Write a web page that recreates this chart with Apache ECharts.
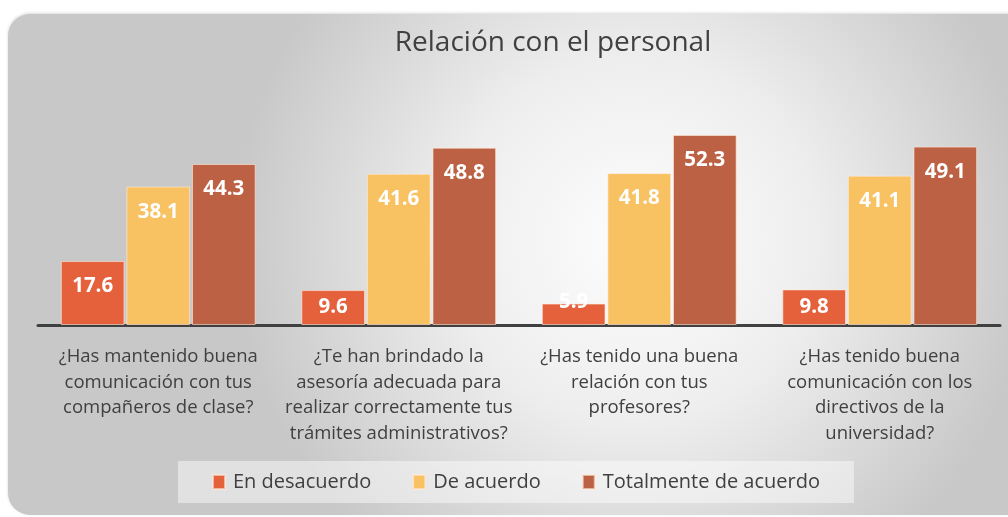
<!DOCTYPE html>
<html><head><meta charset="utf-8">
<script src="https://cdn.jsdelivr.net/npm/echarts@6/dist/echarts.min.js"></script>
<style>html,body{margin:0;padding:0;background:#fff;}#c{width:1008px;height:517px;}</style>
</head><body><div id="c"></div>
<script>
const categories = [
  "¿Has mantenido buena\ncomunicación con tus\ncompañeros de clase?",
  "¿Te han brindado la\nasesoría adecuada para\nrealizar correctamente tus\ntrámites administrativos?",
  "¿Has tenido una buena\nrelación con tus\nprofesores?",
  "¿Has tenido buena\ncomunicación con los\ndirectivos de la\nuniversidad?"
];
const seriesNames = ["En desacuerdo", "De acuerdo", "Totalmente de acuerdo"];
const enDesacuerdo = [17.6, 9.6, 5.9, 9.8];
const deAcuerdo = [38.1, 41.6, 41.8, 41.1];
const totalmente = [44.3, 48.8, 52.3, 49.1];
const colors = ["#E5613C", "#F8C162", "#BC6143"];
const FONT = "Open Sans";

const chart = echarts.init(document.getElementById('c'), null, {renderer: 'canvas'});
const labelBase = {show: true, position: 'insideTop', distance: 15, color: '#fff', fontWeight: 'bold', fontSize: 20.5, fontFamily: FONT};
function mkData(arr) {
  return arr.map(v => {
    if (v < 8) return {value: v, label: {position: 'top', distance: -9}};
    if (v < 14) return {value: v, label: {position: 'inside'}};
    return v;
  });
}
const allSeries = [enDesacuerdo, deAcuerdo, totalmente].map((arr, i) => ({
  name: seriesNames[i],
  type: 'bar',
  data: mkData(arr),
  barGap: '3%',
  barCategoryGap: '19%',
  itemStyle: {color: colors[i], borderColor: 'rgba(255,235,220,0.6)', borderWidth: 1},
  label: labelBase
}));

chart.setOption({
  animation: false,
  graphic: [{
    type: 'rect', z: -10, silent: true,
    shape: {x: 8, y: 14, width: 1010, height: 501, r: [22, 10, 0, 22]},
    style: {
      fill: {
        type: 'radial', x: 0.62, y: 0.45, r: 0.8,
        colorStops: [{offset: 0, color: '#fdfdfd'}, {offset: 0.45, color: '#eeeeee'}, {offset: 1, color: '#c8c8c8'}]
      },
      shadowBlur: 3, shadowColor: 'rgba(0,0,0,0.15)', shadowOffsetY: -1
    }
  }],
  title: {
    text: 'Relación con el personal',
    left: 548, textAlign: 'center', top: 24,
    textStyle: {fontFamily: FONT, fontSize: 28, fontWeight: 'normal', color: '#404040'}
  },
  legend: {
    data: seriesNames,
    left: 178, top: 461,
    itemWidth: 12, itemHeight: 14, itemGap: 41,
    icon: 'rect',
    padding: [11, 34, 11, 34],
    backgroundColor: 'rgba(255,255,255,0.45)',
    textStyle: {fontFamily: FONT, fontSize: 20, color: '#404040', padding: [0, 0, 0, 3]}
  },
  grid: {left: 38, right: 8, top: 107, bottom: 192, containLabel: false},
  xAxis: {
    type: 'category', data: categories,
    axisLine: {show: true, lineStyle: {color: '#404040', width: 3}},
    axisTick: {show: false},
    axisLabel: {interval: 0, margin: 19, fontFamily: FONT, fontSize: 18.5, color: '#404040', lineHeight: 25.5, align: 'center'}
  },
  yAxis: {type: 'value', min: 0, max: 60, show: false, splitLine: {show: false}},
  series: allSeries
});
</script></body></html>
